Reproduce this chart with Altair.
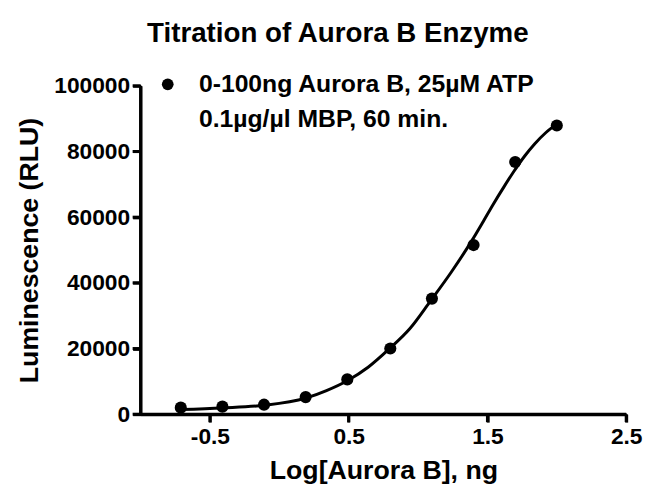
import altair as alt
import pandas as pd

# measured points (log ng, RLU)
log_amount = [-0.71, -0.41, -0.11, 0.19, 0.49, 0.80, 1.10, 1.40, 1.70, 2.00]
luminescence = [2000, 2300, 2900, 5200, 10600, 20000, 35200, 51500, 76800, 87900]

# fitted curve
curve_x = [-0.71, -0.41, -0.11, 0.19, 0.34, 0.49, 0.64, 0.79, 0.94, 1.09, 1.24, 1.39,
           1.47, 1.54, 1.62, 1.69, 1.77, 1.84, 1.92, 2.00]
curve_y = [1400, 1900, 2700, 4900, 7200, 10200, 14300, 19800, 26000, 34500, 43300, 53000,
           58700, 63800, 69300, 73900, 78700, 82300, 85700, 88400]

legend_lines = ["0-100ng Aurora B, 25\u00b5M ATP", "0.1\u00b5g/\u00b5l MBP, 60 min."]

x_domain = [-1, 2.5]
y_domain = [0, 100000]
x_ticks = [-0.5, 0.5, 1.5, 2.5]
y_ticks = [0, 20000, 40000, 60000, 80000, 100000]

FONT = "Liberation Sans"
INK = "black"

pts = pd.DataFrame({"x": log_amount, "y": luminescence, "series": legend_lines[0]})
crv = pd.DataFrame({"x": curve_x, "y": curve_y})
frame = pd.DataFrame({
    "x": [x_domain[0], x_domain[0], x_domain[1]],
    "y": [y_domain[1], y_domain[0], y_domain[0]],
    "i": [0, 1, 2],
})
xt = pd.DataFrame({"x": x_ticks, "y": y_domain[0]})
yt = pd.DataFrame({"x": x_domain[0], "y": y_ticks})

xs = alt.Scale(domain=x_domain, nice=False, zero=False)
ys = alt.Scale(domain=y_domain, nice=False)

x_axis = alt.Axis(
    values=x_ticks, labelExpr="'' + datum.value", title="Log[Aurora B], ng",
    titlePadding=9, labelPadding=4, domainColor=INK, tickColor=INK, zindex=1,
)
y_axis = alt.Axis(
    values=y_ticks, format="d", title="Luminescence (RLU)",
    titlePadding=10, labelPadding=3, domainColor=INK, tickColor=INK, zindex=1,
)

X = alt.X("x:Q", scale=xs, axis=x_axis)
Y = alt.Y("y:Q", scale=ys, axis=y_axis)

axis_frame = alt.Chart(frame).mark_line(
    color="black", strokeWidth=3, strokeJoin="miter", interpolate="linear"
).encode(x=X, y=Y, order=alt.Order("i:Q"))

x_tick_marks = alt.Chart(xt).mark_tick(
    color="black", orient="vertical", size=8, thickness=3, yOffset=4, opacity=1
).encode(x=X, y=Y)

y_tick_marks = alt.Chart(yt).mark_tick(
    color="black", orient="horizontal", size=8, thickness=3, xOffset=-4, opacity=1
).encode(x=X, y=Y)

line = alt.Chart(crv).mark_line(color="black", strokeWidth=3, interpolate="monotone").encode(
    x=X, y=Y,
)

points = alt.Chart(pts).mark_point(filled=True, size=150, opacity=1, color="black").encode(
    x=X, y=Y,
    shape=alt.Shape(
        "series:N",
        scale=alt.Scale(domain=legend_lines, range=["circle", "M0,0"]),
        legend=alt.Legend(
            title=None, orient="none", legendX=15, legendY=-14, padding=0,
            labelFont=FONT, labelFontSize=25, labelFontWeight="bold", labelColor="black",
            labelOffset=19, rowPadding=9, symbolSize=140, symbolFillColor="black",
            symbolStrokeColor="black", symbolType="circle", labelLimit=600,
        ),
    ),
)

chart = (
    alt.layer(axis_frame, x_tick_marks, y_tick_marks, line, points)
    .properties(
        width=491, height=332,
        background="white",
        title=alt.TitleParams(
            "Titration of Aurora B Enzyme", font=FONT, fontSize=28, fontWeight="bold",
            color="black", anchor="middle", offset=24, dx=-46,
        ),
        autosize=alt.AutoSizeParams(type="none"),
        padding={"left": 134, "top": 76, "right": 18, "bottom": 76},
    )
    .configure_view(stroke=None)
    .configure_axis(
        grid=False, domain=True, domainWidth=3, domainOpacity=1,
        ticks=True, tickWidth=3, tickSize=8, tickOpacity=1,
        labelFontSize=23, labelFont=FONT, labelFontWeight="bold", labelColor="black",
        titleFontSize=27, titleFont=FONT, titleFontWeight="bold", titleColor="black",
        labelFlush=False, labelOverlap=False,
    )
)

chart.save("out.html", embed_options={"renderer": "svg", "actions": False})
